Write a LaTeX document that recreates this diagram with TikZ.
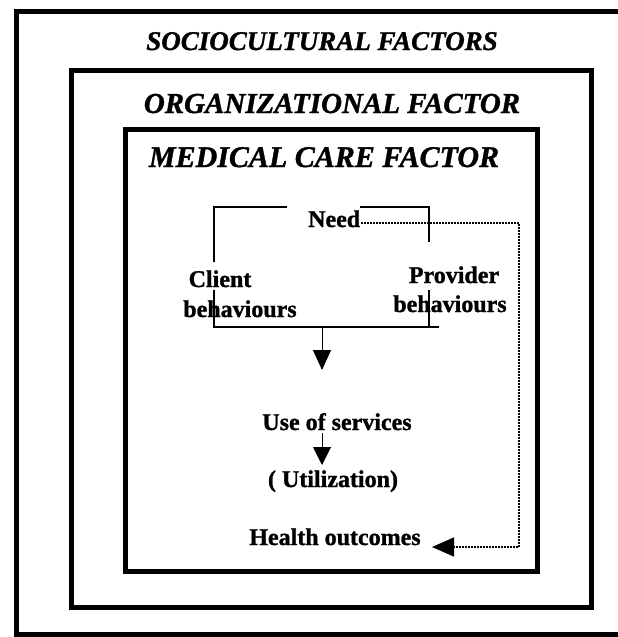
\documentclass[tikz,border=0pt]{standalone}
\usepackage{fontspec}
\setmainfont{Liberation Serif}[BoldFeatures={FakeBold=1.2},BoldItalicFeatures={FakeBold=1.2}]
\usetikzlibrary{arrows.meta}
\begin{document}
\begin{tikzpicture}[x=1pt,y=-1pt,
  frame/.style={draw=black,line width=5pt},
  title/.style={font=\bfseries\itshape\fontsize{#1}{#1}\selectfont,inner sep=0pt,anchor=base},
  label/.style={font=\bfseries\fontsize{24}{28}\selectfont,inner sep=0pt,anchor=base},
  bracket/.style={line width=1.6pt},
  flow/.style={line width=1pt,-{Triangle[length=#1,width=18pt]}},
  feedback/.style={line width=1.3pt,dash pattern=on 2pt off 1pt,-{Triangle[length=22pt,width=19pt]}}
]
\useasboundingbox (0,0) rectangle (618,637);
\fill[white] (0,0) rectangle (618,637);

% nested factor frames
\begin{scope}
  \clip (0,0) rectangle (618,637);
  \draw[frame] (16,11) rectangle (626,634);
\end{scope}
\draw[frame] (71,70) rectangle (591,607);
\draw[frame] (125,129) rectangle (537,571);

% frame titles
\node[title=27] (socio) at (322,50) {SOCIOCULTURAL FACTORS};
\node[title=29] (org) at (332,113) {ORGANIZATIONAL FACTOR};
\node[title=30] (med) at (324,167) {MEDICAL CARE FACTOR};

% core model
\node[label,anchor=base west] (need) at (308,227) {Need};
\node[label] (clientA) at (220,287) {Client};
\node[label] (clientB) at (240,317) {behaviours};
\node[label] (provA) at (454,283) {Provider};
\node[label] (provB) at (450,312) {behaviours};
\node[label] (use) at (337,430) {Use of services};
\node[label] (util) at (333,487) {( Utilization)};
\node[label] (health) at (335,545) {Health outcomes};

% bracket joining need, client and provider
\coordinate (bTL) at (214,207);
\coordinate (bTR) at (429,207);
\coordinate (bBL) at (214,327);
\coordinate (bBR) at (429,327);
\coordinate (bEnd) at (439,327);
\coordinate (bMid) at (322,327);
\draw[bracket] (287,207) -- (bTL) -- (214,262);
\draw[bracket] (214,290) -- (bBL) -- (bEnd);
\draw[bracket] (need.east |- bTR) -- (bTR) -- (429,242);
\draw[bracket] (429,290) -- (bBR);

% flow to use of services and utilization
\coordinate (tip1) at (322,370);
\draw[flow=20pt] (bMid) -- (tip1);
\coordinate (s2) at (322,433);
\coordinate (tip2) at (322,465);
\draw[flow=18pt] (s2) -- (tip2);

% feedback from need to health outcomes
\coordinate (fbA) at (361,223);
\coordinate (fbB) at (519,223);
\coordinate (fbC) at (519,547);
\coordinate (fbTip) at (432,547);
\draw[feedback] (fbA) -- (fbB) -- (fbC) -- (fbTip);
\end{tikzpicture}
\end{document}
